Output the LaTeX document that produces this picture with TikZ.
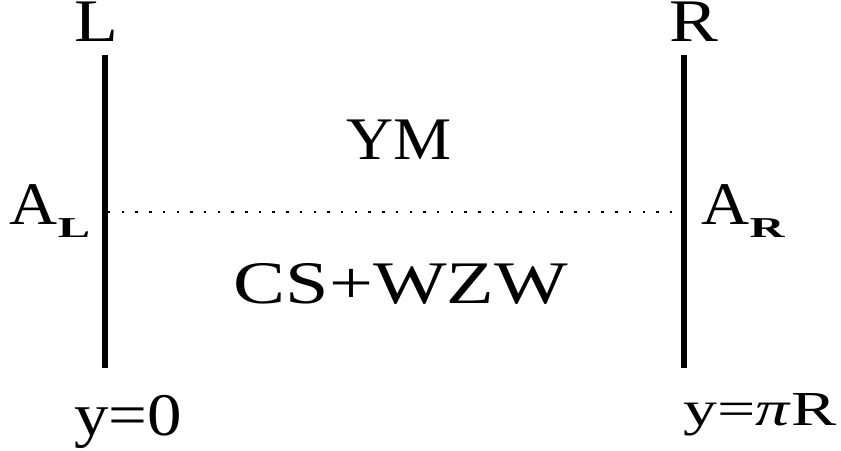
\documentclass[tikz,border=0pt]{standalone}
\usepackage{fontspec}
\setmainfont{Liberation Serif}
\usepackage{graphicx}
\usetikzlibrary{calc}

\newcommand{\widen}[2]{\scalebox{#1}[1]{#2}}
\newcommand{\subbold}[1]{\raisebox{-3.7pt}{\fontsize{8.2}{10}\selectfont\bfseries\widen{1.68}{#1}}}

\begin{document}
\begin{tikzpicture}[
    brane/.style={line width=1.9pt},
    junction/.style={line width=0.7pt, dash pattern=on 0.7pt off 3.2pt},
    lbl/.style={anchor=base, inner sep=0pt, font=\fontsize{17.2}{20}\selectfont},
    smalllbl/.style={anchor=base, inner sep=0pt, font=\fontsize{13.9}{16}\selectfont}]
    \useasboundingbox (0, 0) rectangle (8.41, 4.50);

    \coordinate (Ltop) at (1.05, 3.95);
    \coordinate (Lbot) at (1.05, 0.82);
    \coordinate (Rtop) at (6.84, 3.95);
    \coordinate (Rbot) at (6.84, 0.82);
    \coordinate (Lmid) at (1.08, 2.38);
    \coordinate (Rmid) at (6.81, 2.38);

    \node [lbl] (L) at ($(Ltop) + (-0.09, 0.13)$) {\widen{1.19}{L}};
    \node [lbl] (R) at ($(Rtop) + (0.10, 0.13)$) {\widen{1.21}{R}};
        \node [lbl] (AL) at ($(Lmid) + (-0.58, -0.12)$) {\widen{1.1}{A}\subbold{L}};
        \node [lbl] (AR) at ($(Rmid) + (0.62, -0.12)$) {\widen{1.1}{A}\subbold{R}};
    \node [lbl] (YM) at (3.99, 2.91) {\widen{1.08}{YM}};
    \node [lbl] (CSWZW) at (4.01, 1.47) {\widen{1.29}{CS+WZW}};
        \node [lbl] (y0) at ($(Lbot) + (0.23, -0.67)$) {\widen{1.14}{y=0}};
        \node [smalllbl] (ypiR) at ($(Rbot) + (0.76, -0.57)$) {\widen{1.39}{y=\textit{π}R}};

    \draw [brane] (Ltop) -- (Lbot);
    \draw [brane] (Rtop) -- (Rbot);
    \draw [junction] (Lmid) -- (Rmid);
\end{tikzpicture}
\end{document}
